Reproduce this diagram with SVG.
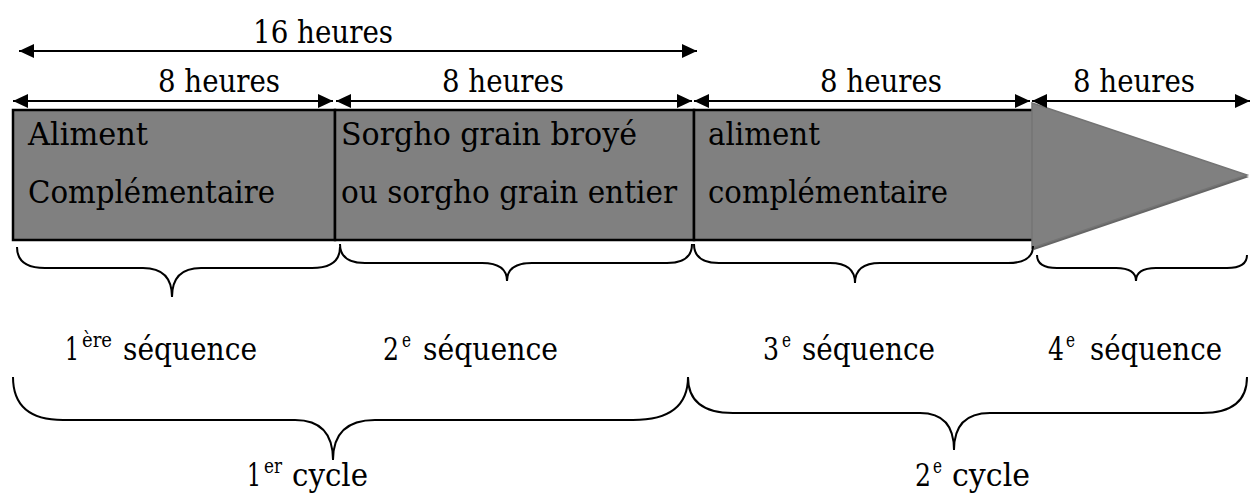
<svg xmlns="http://www.w3.org/2000/svg" width="1250" height="493" viewBox="0 0 1250 493">
<style>
text{font-family:"DejaVu Serif Condensed","DejaVu Serif","Liberation Serif","Noto Serif",serif;font-stretch:condensed;font-size:32px;fill:#000}
.sup{font-size:21px}
.dim{stroke:#000;stroke-width:2;fill:none}
.brace{stroke:#000;stroke-width:2;fill:none}
.box{fill:#808080;stroke:#000;stroke-width:2.5}
</style>
<defs>
<marker id="ah" viewBox="0 0 15 14" refX="15" refY="7" markerWidth="15" markerHeight="14" markerUnits="userSpaceOnUse" orient="auto-start-reverse">
<path d="M0,0 L15,7 L0,14 Z" fill="#000"/>
</marker>
</defs>
<rect width="1250" height="493" fill="#fff"/>

<g id="node-seq1">
<rect class="box" x="13" y="110" width="322" height="130"/>
<text x="28" y="145" textLength="120" lengthAdjust="spacingAndGlyphs">Aliment</text>
<text x="28" y="203" textLength="247" lengthAdjust="spacingAndGlyphs">Complémentaire</text>
</g>
<g id="node-seq2">
<rect class="box" x="335" y="110" width="359" height="130"/>
<text x="341" y="145" textLength="296" lengthAdjust="spacingAndGlyphs">Sorgho grain broyé</text>
<text x="341" y="203" textLength="336" lengthAdjust="spacingAndGlyphs">ou sorgho grain entier</text>
</g>
<g id="node-seq3">
<rect class="box" x="694" y="110" width="340" height="130"/>
<text x="708" y="145" textLength="112" lengthAdjust="spacingAndGlyphs">aliment</text>
<text x="708" y="203" textLength="240" lengthAdjust="spacingAndGlyphs">complémentaire</text>
</g>
<g id="node-seq4">
<polygon points="1034,105 1249,177 1034,250" fill="#666"/>
<polygon points="1032,103 1247,175 1032,248" fill="#808080" stroke="#747474" stroke-width="1.5"/>
</g>

<g id="connectors">
<line class="dim" x1="19" y1="51" x2="697" y2="51" marker-start="url(#ah)" marker-end="url(#ah)"/>
<line class="dim" x1="13" y1="101" x2="333" y2="101" marker-start="url(#ah)" marker-end="url(#ah)"/>
<line class="dim" x1="336" y1="101" x2="692" y2="101" marker-start="url(#ah)" marker-end="url(#ah)"/>
<line class="dim" x1="694" y1="101" x2="1030" y2="101" marker-start="url(#ah)" marker-end="url(#ah)"/>
<line class="dim" x1="1032" y1="101" x2="1250" y2="101" marker-start="url(#ah)" marker-end="url(#ah)"/>

<path class="brace" d="M17,247 Q17,268 45,268 L143,268 Q172,268 172,297 Q172,268 201,268 L312,268 Q340,268 340,247"/>
<path class="brace" d="M340,244 Q340,263 365,263 L482,263 Q507,263 507,281 Q507,263 532,263 L667,263 Q692,263 692,244"/>
<path class="brace" d="M694,244 Q694,263 719,263 L830,263 Q855,263 855,283 Q855,263 880,263 L1008,263 Q1033,263 1033,246"/>
<path class="brace" d="M1037,255 Q1037,268 1057,268 L1116,268 Q1136,268 1136,281 Q1136,268 1156,268 L1227,268 Q1247,268 1247,255"/>
<path class="brace" d="M13,377 Q13,420 63,420 L295,420 Q333,420 333,460 Q333,420 375,420 L633,420 Q688,420 688,377"/>
<path class="brace" d="M688,377 Q688,413 733,413 L920,413 Q954,413 954,450 Q954,413 990,413 L1202,413 Q1247,413 1247,377"/>
</g>

<g id="labels">
<text x="253" y="43" textLength="140" lengthAdjust="spacingAndGlyphs">16 heures</text>
<text x="158" y="92" textLength="122" lengthAdjust="spacingAndGlyphs">8 heures</text>
<text x="442" y="92" textLength="122" lengthAdjust="spacingAndGlyphs">8 heures</text>
<text x="820" y="92" textLength="122" lengthAdjust="spacingAndGlyphs">8 heures</text>
<text x="1073" y="92" textLength="122" lengthAdjust="spacingAndGlyphs">8 heures</text>
<text x="65" y="360"><tspan textLength="14" lengthAdjust="spacingAndGlyphs">1</tspan><tspan class="sup" x="82" dy="-13" textLength="30" lengthAdjust="spacingAndGlyphs">ère</tspan><tspan x="123" dy="13" textLength="134" lengthAdjust="spacingAndGlyphs">séquence</tspan></text>
<text x="383" y="360"><tspan textLength="16" lengthAdjust="spacingAndGlyphs">2</tspan><tspan class="sup" x="402" dy="-13" textLength="9" lengthAdjust="spacingAndGlyphs">e</tspan><tspan x="423" dy="13" textLength="135" lengthAdjust="spacingAndGlyphs">séquence</tspan></text>
<text x="763" y="360"><tspan textLength="16" lengthAdjust="spacingAndGlyphs">3</tspan><tspan class="sup" x="782" dy="-13" textLength="9" lengthAdjust="spacingAndGlyphs">e</tspan><tspan x="802" dy="13" textLength="133" lengthAdjust="spacingAndGlyphs">séquence</tspan></text>
<text x="1048" y="360"><tspan textLength="16" lengthAdjust="spacingAndGlyphs">4</tspan><tspan class="sup" x="1066" dy="-13" textLength="9" lengthAdjust="spacingAndGlyphs">e</tspan><tspan x="1090" dy="13" textLength="132" lengthAdjust="spacingAndGlyphs">séquence</tspan></text>
<text x="247" y="486"><tspan textLength="14" lengthAdjust="spacingAndGlyphs">1</tspan><tspan class="sup" x="264" dy="-13" textLength="18" lengthAdjust="spacingAndGlyphs">er</tspan><tspan x="292" dy="13" textLength="76" lengthAdjust="spacingAndGlyphs">cycle</tspan></text>
<text x="915" y="486"><tspan textLength="16" lengthAdjust="spacingAndGlyphs">2</tspan><tspan class="sup" x="933" dy="-13" textLength="9" lengthAdjust="spacingAndGlyphs">e</tspan><tspan x="952" dy="13" textLength="78" lengthAdjust="spacingAndGlyphs">cycle</tspan></text>
</g>
</svg>
